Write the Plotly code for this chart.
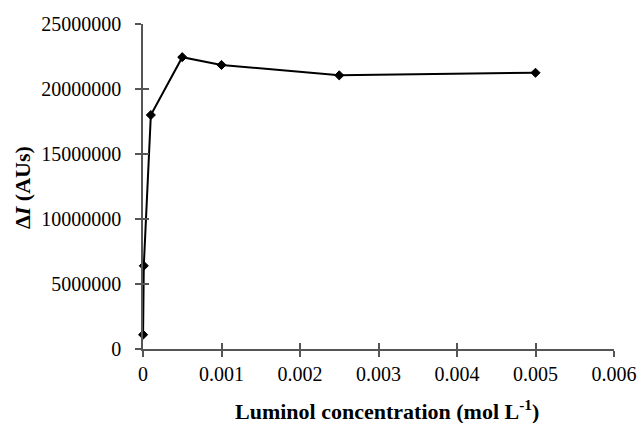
import plotly.graph_objects as go

conc = [0.000001, 0.00001, 0.0001, 0.0005, 0.001, 0.0025, 0.005]
delta_i = [1100000, 6400000, 18000000, 22450000, 21850000, 21050000, 21250000]

x_ticks = [0, 0.001, 0.002, 0.003, 0.004, 0.005, 0.006]
x_tick_labels = ["0", "0.001", "0.002", "0.003", "0.004", "0.005", "0.006"]
y_ticks = [0, 5000000, 10000000, 15000000, 20000000, 25000000]
y_tick_labels = ["0", "5000000", "10000000", "15000000", "20000000", "25000000"]

FONT = "Liberation Serif"
AX = "#555555"

fig = go.Figure()
fig.add_trace(go.Scatter(
    x=conc, y=delta_i, mode="lines+markers",
    line=dict(color="black", width=2),
    marker=dict(symbol="diamond", size=7, color="black",
                line=dict(color="black", width=1)),
    cliponaxis=False, showlegend=False,
))

fig.update_layout(
    width=638, height=423,
    margin=dict(l=143, r=24, t=24, b=74),
    paper_bgcolor="white", plot_bgcolor="white",
    font=dict(family=FONT, size=20, color="black"),
    xaxis=dict(range=[0, 0.006], tickvals=x_ticks, ticktext=x_tick_labels,
               showgrid=False, zeroline=False, showline=True, linecolor=AX,
               linewidth=1.5, ticks="outside", ticklen=6, tickwidth=1.5,
               tickcolor=AX, ticklabelstandoff=0, automargin=False,
               tickfont=dict(family=FONT, size=20, color="black")),
    yaxis=dict(range=[0, 25000000], tickvals=y_ticks, ticktext=y_tick_labels,
               showgrid=False, zeroline=False, showline=True, linecolor=AX,
               linewidth=1.5, ticks="outside", ticklen=6, tickwidth=1.5,
               tickcolor=AX, ticklabelstandoff=10, automargin=False,
               tickfont=dict(family=FONT, size=20, color="black")),
    xaxis2=dict(range=[0, 0.006], tickvals=x_ticks, overlaying="x",
                anchor="y", side="bottom", showticklabels=False,
                showgrid=False, zeroline=False, ticks="inside", ticklen=6,
                tickwidth=1.5, tickcolor=AX, automargin=False),
    yaxis2=dict(range=[0, 25000000], tickvals=y_ticks, overlaying="y",
                anchor="x", side="left", showticklabels=False,
                showgrid=False, zeroline=False, ticks="inside", ticklen=6,
                tickwidth=1.5, tickcolor=AX, automargin=False),
)

# invisible trace so the overlay axes (inner tick halves) are drawn
fig.add_trace(go.Scatter(x=[None], y=[None], xaxis="x2", yaxis="y2",
                         showlegend=False, hoverinfo="skip"))

fig.add_annotation(
    text="<b>Δ<i>I</i> (AUs)</b>", textangle=-90,
    xref="paper", yref="paper", x=(22 - 143) / 471, y=(349 - 188) / 325,
    xanchor="center", yanchor="middle", showarrow=False,
    font=dict(family=FONT, size=22, color="black"),
)
fig.add_annotation(
    text="<b>Luminol concentration (mol L<sup>-1</sup>)</b>",
    xref="paper", yref="paper", x=(387 - 143) / 471, y=(349 - 410) / 325,
    xanchor="center", yanchor="middle", showarrow=False,
    font=dict(family=FONT, size=22, color="black"),
)

fig.write_html("out.html")
